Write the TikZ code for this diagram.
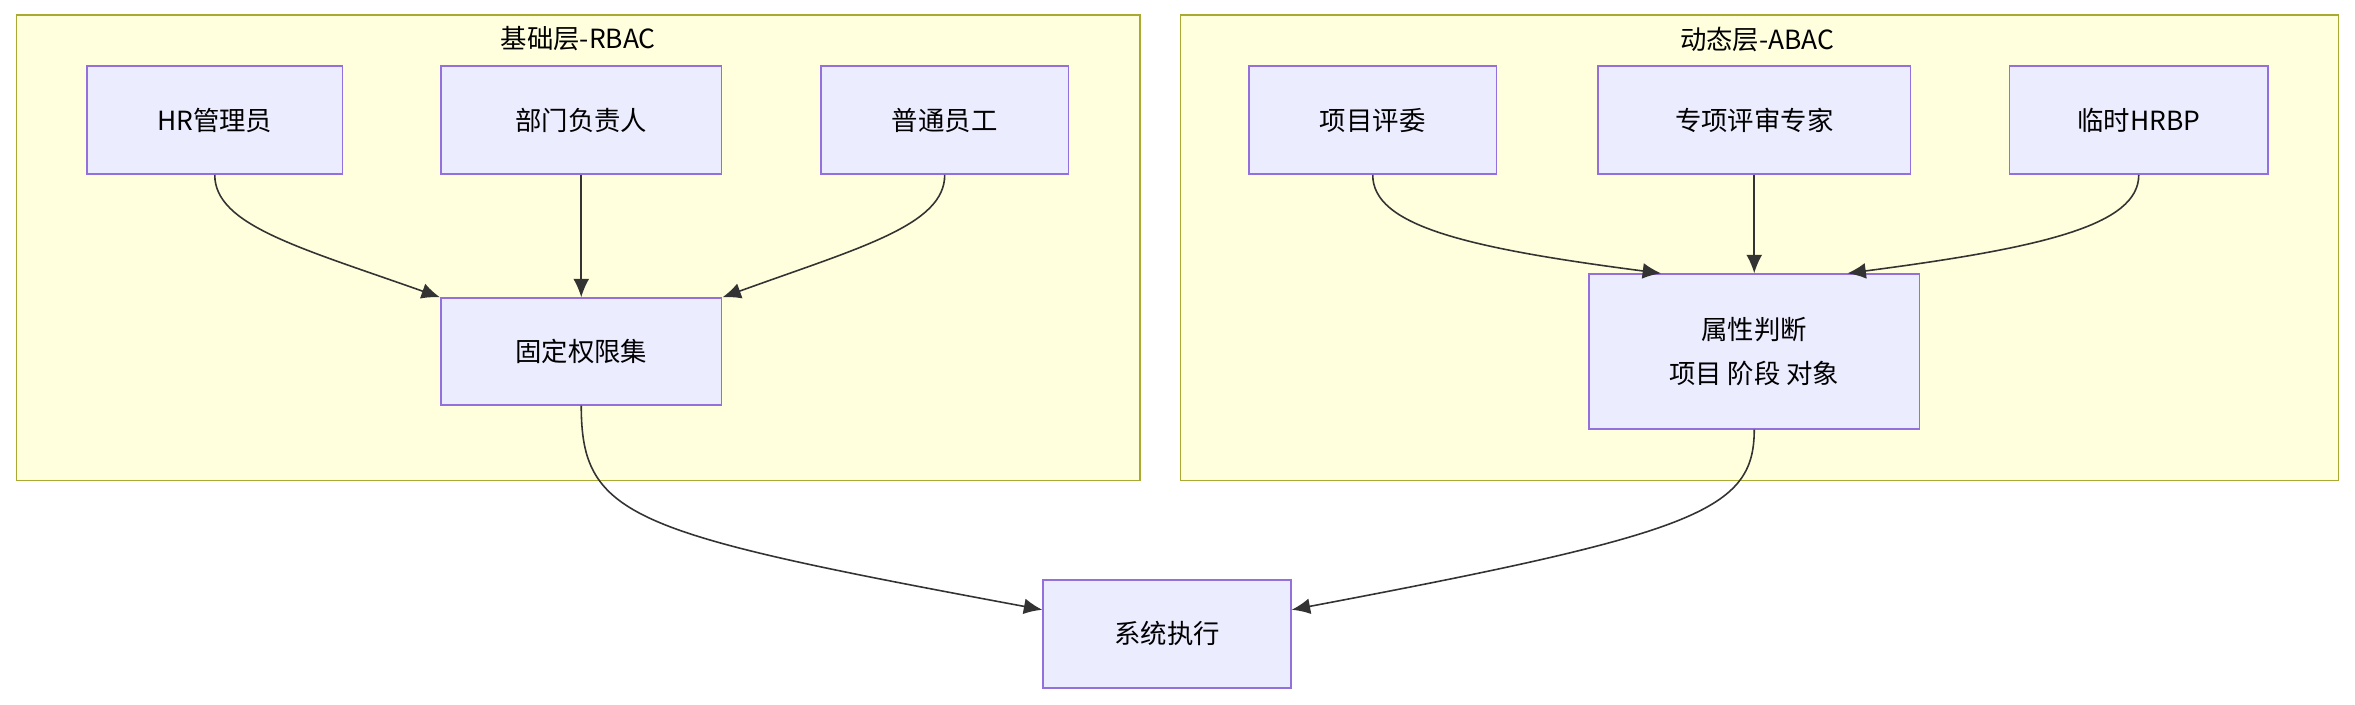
\documentclass[tikz,border=0pt]{standalone}
\usepackage{fontspec}
\setmainfont{Noto Sans CJK SC}
\usetikzlibrary{arrows.meta,positioning}
\definecolor{clusterFill}{HTML}{FFFFDE}
\definecolor{clusterLine}{HTML}{AAAA33}
\definecolor{boxFill}{HTML}{ECECFF}
\definecolor{boxLine}{HTML}{9370DB}
\definecolor{arrowColor}{HTML}{333333}
\tikzset{
  cluster/.style={draw=clusterLine, fill=clusterFill, line width=0.6pt},
  box/.style={draw=boxLine, fill=boxFill, line width=0.6pt, align=center,
    inner sep=0pt, font=\fontsize{10}{17}\selectfont},
  arr/.style={-{Latex[length=7pt,width=6pt]}, draw=arrowColor, line width=0.6pt}
}
\begin{document}
\begin{tikzpicture}[x=0.02cm,y=-0.02cm]
				\useasboundingbox (0,0) rectangle (1568,469);
				% clusters
				\draw [cluster] (11,10) rectangle (759,320);
				\draw [cluster] (786,10) rectangle (1557,320);
				\node [font=\fontsize{10}{12}\selectfont] (rbac) at (385,26) {基础层-RBAC};
				\node [font=\fontsize{10}{12}\selectfont] (abac) at (1170,26) {动态层-ABAC};
				
				% RBAC
				\node [box, minimum width=3.4cm, minimum height=1.44cm] (hr) at (143,80) {HR管理员};
				\node [box, minimum width=3.74cm, minimum height=1.44cm] (head) at (387,80) {部门负责人};
				\node [box, minimum width=3.3cm, minimum height=1.44cm] (staff) at (629,80) {普通员工};
				\node [box, minimum width=3.74cm, minimum height=1.42cm] (fix) at (387,234) {固定权限集};
				
				% ABAC
				\node [box, minimum width=3.3cm, minimum height=1.44cm] (judge) at (914,80) {项目评委};
				\node [box, minimum width=4.16cm, minimum height=1.44cm] (expert) at (1168,80) {专项评审专家};
				\node [box, minimum width=3.44cm, minimum height=1.44cm] (hrbp) at (1424,80) {临时HRBP};
				\node [box, minimum width=4.4cm, minimum height=2.06cm] (attr) at (1168,234) {属性判断\\项目 阶段 对象};
				
				\node [box, minimum width=3.3cm, minimum height=1.44cm] (exec) at (777,422) {系统执行};
				
				\draw [arr] (hr.south) .. controls (143,150) and (200,165) .. (fix.north west);
				\draw [arr] (head) -- (fix);
				\draw [arr] (staff.south) .. controls (629,150) and (572,165) .. (fix.north east);
				\draw [arr] (judge.south) .. controls (914,150) and (975,165) .. (attr.140);
				\draw [arr] (expert) -- (attr);
				\draw [arr] (hrbp.south) .. controls (1424,150) and (1360,165) .. (attr.40);
				\draw [arr] (fix.south) .. controls (387,345) and (420,355) .. (exec.west |- 0,406);
				\draw [arr] (attr.south) .. controls (1168,340) and (1130,355) .. (exec.east |- 0,406);
\end{tikzpicture}
\end{document}
